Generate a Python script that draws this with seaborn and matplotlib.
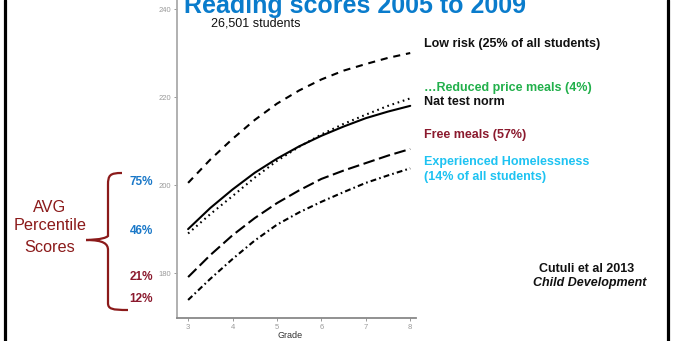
import matplotlib
matplotlib.use("Agg")
import matplotlib.pyplot as plt
import seaborn as sns
import pandas as pd
from matplotlib.path import Path
from matplotlib.patches import PathPatch

# values (every half grade)
grades = [3, 3.5, 4, 4.5, 5, 5.5, 6, 6.5, 7, 7.5, 8]
grade_ticks = [3, 4, 5, 6, 7, 8]
low_risk = [200.5, 205.8, 210.5, 214.8, 218.5, 221.5, 224.0, 226.0, 227.5, 228.9, 230.0]
reduced_meals = [189.0, 193.4, 197.5, 201.7, 205.5, 208.7, 211.5, 213.9, 216.0, 218.0, 219.7]
nat_norm = [190.0, 194.8, 199.0, 202.8, 206.0, 208.8, 211.2, 213.3, 215.2, 216.7, 218.0]
free_meals = [179.1, 184.1, 188.6, 192.5, 195.9, 198.8, 201.4, 203.3, 205.0, 206.7, 208.2]
homeless = [173.9, 178.7, 183.2, 187.4, 191.0, 193.8, 196.2, 198.4, 200.5, 202.2, 203.8]

groups = ["Low risk", "Reduced price meals", "Nat test norm", "Free meals", "Homeless"]
series = [low_risk, reduced_meals, nat_norm, free_meals, homeless]

labels = [("Low risk (25% of all students)", "#111111", 44),
          ("\u2026Reduced price meals (4%)", "#22b04b", 88),
          ("Nat test norm", "#111111", 102),
          ("Free meals (57%)", "#8b1a2e", 135),
          ("Experienced Homelessness", "#1ec3f2", 162),
          ("(14% of all students)", "#1ec3f2", 177)]
pct_labels = [("75%", "#1a78c8", 182), ("46%", "#1a78c8", 231),
              ("21%", "#8b1a2e", 277), ("12%", "#8b1a2e", 299)]

df = pd.DataFrame({
    "grade": grades * len(groups),
    "score": [v for s in series for v in s],
    "group": [g for g in groups for _ in grades],
})

sns.set_theme(style="white")
plt.rcParams["font.family"] = ["Liberation Sans", "DejaVu Sans"]

W, H = 673, 341
fig = plt.figure(figsize=(W / 100, H / 100), dpi=100)
fig.patch.set_facecolor("white")

ax = fig.add_axes([177 / W, 1 - 318 / H, (416 - 177) / W, 318 / H])
dashes = {
    "Low risk": (3.4, 2.8),
    "Reduced price meals": (0.8, 1.8),
    "Nat test norm": "",
    "Free meals": (5.6, 2.2),
    "Homeless": (2.8, 1.5, 0.8, 1.5),
}
sns.lineplot(data=df, x="grade", y="score", hue="group", style="group",
             dashes=dashes, palette=["black"] * len(groups), linewidth=1.5,
             legend=False, ax=ax)
ax.set_xlim(2.75, 8.13)
ax.set_ylim(169.8, 242.05)
ax.set_xticks(grade_ticks)
ax.set_yticks([180, 200, 220, 240])
ax.set_xlabel("")
ax.set_ylabel("")
sns.despine(ax=ax)
ax.spines["left"].set_color("#aaaaaa")
ax.spines["left"].set_linewidth(1.3)
ax.spines["bottom"].set_color("#888888")
ax.spines["bottom"].set_linewidth(1.3)
ax.tick_params(axis="both", length=2.5, width=0.7, color="#999999",
               labelsize=5.5, labelcolor="#9a9a9a", pad=2, left=True, bottom=True)

# overlay in pixel coordinates for annotations
ov = fig.add_axes([0, 0, 1, 1])
ov.set_xlim(0, W)
ov.set_ylim(H, 0)
ov.axis("off")

# title is cropped at the top edge, as in the reference slide
ov.text(355, 12.7, "Reading scores 2005 to 2009", ha="center", va="baseline",
        fontsize=18, fontweight="bold", color="#0a7ccc")
ov.text(211, 26.7, "26,501 students", ha="left", va="baseline", fontsize=9, color="#111111")

for txt, col, y in labels:
    ov.text(424, y, txt, ha="left", va="center", fontsize=9, fontweight="bold", color=col)

for txt, col, y in pct_labels:
    ov.text(141, y, txt, ha="center", va="center", fontsize=8.5, fontweight="bold", color=col)

for txt, y in [("AVG", 207), ("Percentile", 226), ("Scores", 247)]:
    ov.text(50, y, txt, ha="center", va="center", fontsize=11.7, color="#8b1a1a")

ov.text(587, 269, "Cutuli et al 2013", ha="center", va="center", fontsize=9,
        fontweight="bold", color="#111111")
ov.text(590, 283, "Child Development", ha="center", va="center", fontsize=9,
        fontweight="bold", fontstyle="italic", color="#111111")
ov.text(290, 336, "Grade", ha="center", va="center", fontsize=6.5, color="#333333")

# curly brace
verts = [(122, 173), (110, 173), (108, 175), (108, 185),
         (108, 230), (108, 230), (108, 236),
         (104, 240), (86, 240), (86, 240),
         (104, 240), (108, 244), (108, 250),
         (108, 300), (108, 300), (108, 303),
         (108, 309), (112, 310), (128, 310)]
codes = [Path.MOVETO, Path.CURVE4, Path.CURVE4, Path.CURVE4,
         Path.LINETO, Path.LINETO, Path.LINETO,
         Path.CURVE4, Path.CURVE4, Path.CURVE4,
         Path.CURVE4, Path.CURVE4, Path.CURVE4,
         Path.LINETO, Path.LINETO, Path.LINETO,
         Path.CURVE4, Path.CURVE4, Path.CURVE4]
ov.add_patch(PathPatch(Path(verts, codes), facecolor="none", edgecolor="#8b1a1a", lw=1.6))

# slide frame
ov.plot([4.5, 4.5], [0, H], color="black", lw=2.3)
ov.plot([668, 668], [0, H], color="black", lw=2.3)

fig.savefig("out.png", dpi=100)
